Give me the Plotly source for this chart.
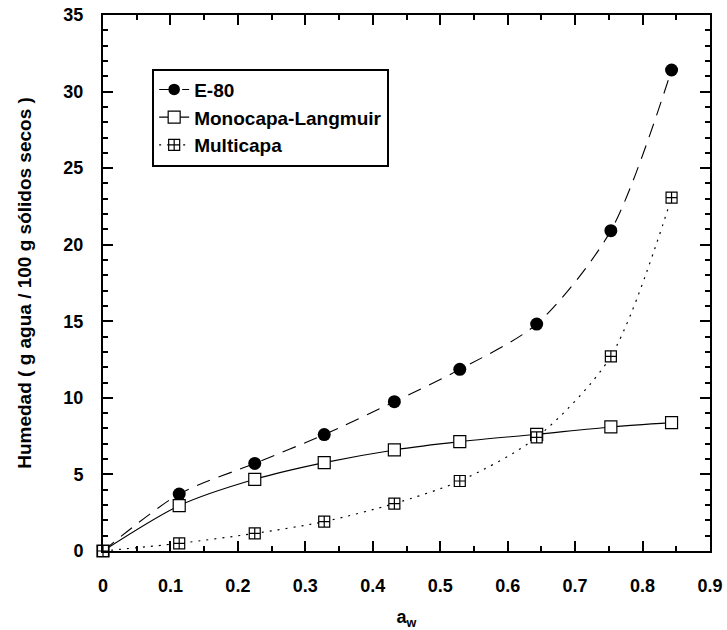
import plotly.graph_objects as go

# ---- data ----
aw = [0.0, 0.113, 0.225, 0.328, 0.432, 0.529, 0.643, 0.753, 0.843]
e80 = [0.0, 3.72, 5.72, 7.60, 9.75, 11.86, 14.82, 20.92, 31.41]
monocapa = [0.0, 2.96, 4.68, 5.77, 6.60, 7.14, 7.62, 8.10, 8.38]
multicapa = [0.0, 0.50, 1.15, 1.92, 3.10, 4.57, 7.42, 12.71, 23.07]

series_names = ["E-80", "Monocapa-Langmuir", "Multicapa"]
x_ticks = [0, 0.1, 0.2, 0.3, 0.4, 0.5, 0.6, 0.7, 0.8, 0.9]
x_ticklabels = ["0", "0.1", "0.2", "0.3", "0.4", "0.5", "0.6", "0.7", "0.8", "0.9"]
y_ticks = [0, 5, 10, 15, 20, 25, 30, 35]

FONT = "Liberation Sans, Arial, sans-serif"

fig = go.Figure()

# E-80: no marker at the origin
e80_sizes = [0] + [13] * (len(aw) - 1)
fig.add_trace(go.Scatter(
    x=aw, y=e80, name=series_names[0], mode="lines+markers",
    line=dict(color="black", width=1.1, dash="14px,9px", shape="spline", smoothing=0.8),
    marker=dict(symbol="circle", size=e80_sizes, color="black", opacity=1, line=dict(width=0)),
    cliponaxis=False,
))
fig.add_trace(go.Scatter(
    x=aw, y=monocapa, name=series_names[1], mode="lines+markers",
    line=dict(color="black", width=1.1, shape="spline", smoothing=0.8),
    marker=dict(symbol="square", size=12, color="white", opacity=1, line=dict(color="black", width=1.2)),
    cliponaxis=False,
))
fig.add_trace(go.Scatter(
    x=aw, y=multicapa, name=series_names[2], mode="lines+markers",
    line=dict(color="black", width=1.2, dash="2px,6px", shape="spline", smoothing=0.8),
    marker=dict(symbol="square-cross", size=11, color="white", opacity=1, line=dict(color="black", width=1.2)),
    cliponaxis=False,
))

axis_common = dict(
    showline=True, linecolor="black", linewidth=2, mirror="ticks",
    ticks="inside", ticklen=10, tickwidth=1.5, tickcolor="black",
    showgrid=False, zeroline=False, automargin=False,
    tickfont=dict(family=FONT, size=18, color="black", weight="bold"),
)

fig.update_xaxes(
    range=[0, 0.9], tickvals=x_ticks, ticktext=x_ticklabels,
    minor=dict(ticks="inside", ticklen=5, tickwidth=1.5, tickcolor="black", dtick=0.05, showgrid=False),
    ticklabelstandoff=17,
    title=dict(text="a<sub>w</sub>", font=dict(family=FONT, size=18, color="black", weight="bold"), standoff=22),
    **axis_common,
)
fig.update_yaxes(
    range=[0, 35], tickvals=y_ticks,
    minor=dict(ticks="inside", ticklen=5, tickwidth=1.5, tickcolor="black", dtick=1, showgrid=False),
    ticklabelstandoff=14,
    title=dict(text="Humedad ( g agua / 100 g sólidos secos )",
               font=dict(family=FONT, size=19, color="black", weight="bold"), standoff=27),
    **axis_common,
)

fig.update_layout(
    width=727, height=630,
    margin=dict(l=103, r=17, t=15, b=79),
    paper_bgcolor="white", plot_bgcolor="white",
    showlegend=True,
    legend=dict(
        x=0.081, y=0.9, xanchor="left", yanchor="top",
        bgcolor="white", bordercolor="black", borderwidth=2,
        font=dict(family=FONT, size=19, color="black", weight="bold"),
        tracegroupgap=0,
    ),
)

fig.write_html("out.html")
